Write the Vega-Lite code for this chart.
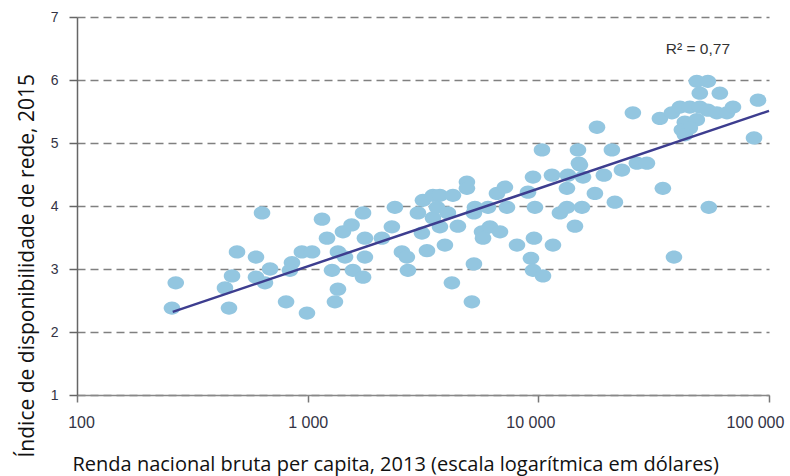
{
  "$schema": "https://vega.github.io/schema/vega-lite/v6.json",
  "width": 692,
  "height": 378,
  "autosize": {"type": "none"},
  "padding": {"left": 77, "top": 17, "right": 21, "bottom": 81},
  "background": "white",
  "config": {"view": {"stroke": null}},
  "datasets": {
    "pts": [
      {"renda": 258, "indice": 2.38}, {"renda": 268, "indice": 2.78}, {"renda": 438, "indice": 2.70}, {"renda": 456, "indice": 2.38},
      {"renda": 494, "indice": 3.27}, {"renda": 470, "indice": 2.89}, {"renda": 597, "indice": 3.19}, {"renda": 597, "indice": 2.87},
      {"renda": 634, "indice": 3.89}, {"renda": 653, "indice": 2.78}, {"renda": 687, "indice": 3.0}, {"renda": 806, "indice": 2.48},
      {"renda": 855, "indice": 3.10}, {"renda": 838, "indice": 2.98}, {"renda": 944, "indice": 3.27}, {"renda": 1045, "indice": 3.27},
      {"renda": 993, "indice": 2.30}, {"renda": 1213, "indice": 3.49}, {"renda": 1275, "indice": 2.98}, {"renda": 1353, "indice": 3.27},
      {"renda": 1353, "indice": 2.68}, {"renda": 1313, "indice": 2.48}, {"renda": 1452, "indice": 3.19}, {"renda": 1571, "indice": 2.98},
      {"renda": 1738, "indice": 2.87}, {"renda": 1771, "indice": 3.49}, {"renda": 1771, "indice": 3.19}, {"renda": 2098, "indice": 3.49},
      {"renda": 1422, "indice": 3.59}, {"renda": 1550, "indice": 3.70}, {"renda": 1154, "indice": 3.79}, {"renda": 1738, "indice": 3.89},
      {"renda": 2389, "indice": 3.98}, {"renda": 2318, "indice": 3.67}, {"renda": 2562, "indice": 3.27}, {"renda": 2692, "indice": 3.19},
      {"renda": 2721, "indice": 2.98}, {"renda": 3006, "indice": 3.89}, {"renda": 3129, "indice": 3.57}, {"renda": 3160, "indice": 4.09},
      {"renda": 3290, "indice": 3.29}, {"renda": 3493, "indice": 4.17}, {"renda": 3745, "indice": 4.17}, {"renda": 3493, "indice": 3.81},
      {"renda": 3745, "indice": 3.67}, {"renda": 3936, "indice": 3.38}, {"renda": 3636, "indice": 3.98}, {"renda": 4055, "indice": 3.89},
      {"renda": 4263, "indice": 4.17}, {"renda": 4220, "indice": 2.78}, {"renda": 4480, "indice": 3.68}, {"renda": 4902, "indice": 4.38},
      {"renda": 4902, "indice": 4.28}, {"renda": 5151, "indice": 2.48}, {"renda": 5258, "indice": 3.08}, {"renda": 5312, "indice": 3.98},
      {"renda": 5258, "indice": 3.89}, {"renda": 5700, "indice": 3.59}, {"renda": 5757, "indice": 3.49}, {"renda": 6170, "indice": 3.67},
      {"renda": 6821, "indice": 3.59}, {"renda": 6050, "indice": 3.98}, {"renda": 6617, "indice": 4.2}, {"renda": 7167, "indice": 4.30},
      {"renda": 7311, "indice": 3.98}, {"renda": 8080, "indice": 3.38}, {"renda": 9019, "indice": 4.22}, {"renda": 9482, "indice": 4.46},
      {"renda": 9669, "indice": 3.98}, {"renda": 9575, "indice": 3.49}, {"renda": 9290, "indice": 3.17}, {"renda": 9482, "indice": 2.98},
      {"renda": 10475, "indice": 2.89}, {"renda": 11571, "indice": 3.38}, {"renda": 11460, "indice": 4.49}, {"renda": 12406, "indice": 3.89},
      {"renda": 13305, "indice": 3.98}, {"renda": 13432, "indice": 4.49}, {"renda": 13305, "indice": 4.28}, {"renda": 14413, "indice": 3.68},
      {"renda": 15460, "indice": 3.98}, {"renda": 15150, "indice": 4.65}, {"renda": 15620, "indice": 4.46}, {"renda": 17590, "indice": 4.2},
      {"renda": 19240, "indice": 4.49}, {"renda": 21470, "indice": 4.06}, {"renda": 10370, "indice": 4.89}, {"renda": 14853, "indice": 4.89},
      {"renda": 15000, "indice": 4.68}, {"renda": 17960, "indice": 5.25}, {"renda": 20840, "indice": 4.89}, {"renda": 23030, "indice": 4.57},
      {"renda": 26740, "indice": 4.68}, {"renda": 29560, "indice": 4.68}, {"renda": 25700, "indice": 5.48}, {"renda": 34660, "indice": 4.28},
      {"renda": 33660, "indice": 5.39}, {"renda": 37940, "indice": 5.48}, {"renda": 41110, "indice": 5.57}, {"renda": 45370, "indice": 5.57},
      {"renda": 50120, "indice": 5.57}, {"renda": 48640, "indice": 5.98}, {"renda": 54320, "indice": 5.98}, {"renda": 50120, "indice": 5.79},
      {"renda": 61220, "indice": 5.79}, {"renda": 54320, "indice": 5.52}, {"renda": 59400, "indice": 5.48}, {"renda": 65710, "indice": 5.48},
      {"renda": 69800, "indice": 5.57}, {"renda": 89600, "indice": 5.68}, {"renda": 86090, "indice": 5.08}, {"renda": 43170, "indice": 5.33},
      {"renda": 48640, "indice": 5.37}, {"renda": 41900, "indice": 5.21}, {"renda": 45370, "indice": 5.24}, {"renda": 43170, "indice": 5.13},
      {"renda": 54830, "indice": 3.98}, {"renda": 38720, "indice": 3.19}
    ],
    "fit": [
      {"renda": 260, "indice": 2.32},
      {"renda": 100000, "indice": 5.51}
    ],
    "r2": [
      {"renda": 49200, "indice": 6.49, "rotulo": "R² = 0,77"}
    ]
  },
  "layer": [
    {
      "data": {"name": "pts"},
      "mark": {
        "type": "point",
        "filled": true,
        "shape": "M -1 0 A 1 0.8 0 1 0 1 0 A 1 0.8 0 1 0 -1 0 Z",
        "size": 275,
        "color": "#93C6E0",
        "opacity": 1
      },
      "encoding": {
        "x": {
          "field": "renda",
          "type": "quantitative",
          "scale": {"type": "log", "domain": [100, 100000]},
          "axis": {
            "values": [100, 1000, 10000, 100000],
            "labelExpr": "datum.value == 100 ? '100' : datum.value == 1000 ? '1 000' : datum.value == 10000 ? '10 000' : '100 000'",
            "labelOffset": {"expr": "datum.value == 100 ? 4 : datum.value == 10000 ? -8 : datum.value == 100000 ? -14 : 0"},
            "title": "Renda nacional bruta per capita, 2013 (escala logarítmica em dólares)",
            "titleFont": "Open Sans",
            "titleFontSize": 20,
            "titleFontWeight": "normal",
            "titleColor": "#111111",
            "titleAnchor": "start",
            "titleAlign": "left",
            "titleBaseline": "alphabetic",
            "titleX": -5,
            "titleY": 75,
            "labelFont": "Liberation Sans",
            "labelFontSize": 16,
            "labelColor": "#333344",
            "labelPadding": 12,
            "labelFlush": false,
            "labelOverlap": false,
            "tickSize": 7,
            "tickColor": "#777777",
            "tickWidth": 1.5,
            "domainColor": "#888888",
            "domainWidth": 1.5,
            "grid": false
          }
        },
        "y": {
          "field": "indice",
          "type": "quantitative",
          "scale": {"domain": [1, 7]},
          "axis": {
            "values": [1, 2, 3, 4, 5, 6, 7],
            "format": "d",
            "title": "Índice de disponibilidade de rede, 2015",
            "titleFont": "Open Sans",
            "titleFontSize": 21,
            "titleFontWeight": "normal",
            "titleColor": "#111111",
            "titleAngle": 270,
            "titleAnchor": "start",
            "titleAlign": "left",
            "titleBaseline": "alphabetic",
            "titleX": -44,
            "titleY": 440,
            "labelFont": "Liberation Sans",
            "labelFontSize": 14,
            "labelColor": "#333344",
            "labelPadding": 11,
            "tickSize": 8,
            "tickColor": "#666666",
            "tickWidth": 1.5,
            "domainColor": "#666666",
            "domainWidth": 1.5,
            "grid": true,
            "gridColor": "#808080",
            "gridDash": [8, 5],
            "gridWidth": 1.5
          }
        }
      }
    },
    {
      "data": {"name": "fit"},
      "mark": {"type": "line", "color": "#3D3D8F", "strokeWidth": 2.5},
      "encoding": {
        "x": {"field": "renda", "type": "quantitative"},
        "y": {"field": "indice", "type": "quantitative"}
      }
    },
    {
      "data": {"name": "r2"},
      "mark": {"type": "text", "font": "Liberation Sans", "fontSize": 15.5, "color": "#333333", "align": "center", "baseline": "middle"},
      "encoding": {
        "x": {"field": "renda", "type": "quantitative"},
        "y": {"field": "indice", "type": "quantitative"},
        "text": {"field": "rotulo"}
      }
    }
  ]
}
